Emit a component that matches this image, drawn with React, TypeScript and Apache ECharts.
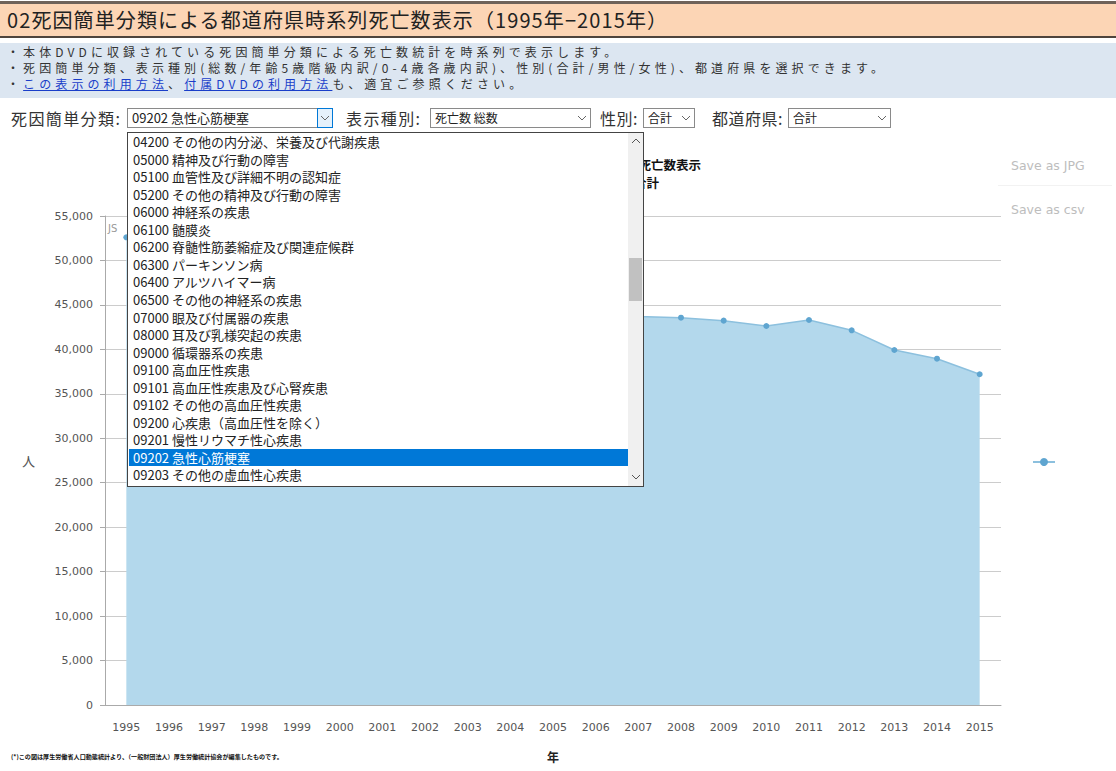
import React, { useEffect, useRef } from "react";
import * as echarts from "echarts";

const years = ["1995","1996","1997","1998","1999","2000","2001","2002","2003","2004","2005","2006","2007","2008","2009","2010","2011","2012","2013","2014","2015"];
const deaths = [52600, 48900, 47600, 48000, 49400, 47200, 45700, 45300, 45700, 44500, 46100, 45200, 43700, 43560, 43230, 42630, 43300, 42140, 39930, 38950, 37200];
const yMax = 55000;
const yInterval = 5000;

const pageTitle = "02死因簡単分類による都道府県時系列死亡数表示（1995年−2015年）";
const descLines = [
  "・本体DVDに収録されている死因簡単分類による死亡数統計を時系列で表示します。",
  "・死因簡単分類、表示種別(総数/年齢5歳階級内訳/0-4歳各歳内訳)、性別(合計/男性/女性)、都道府県を選択できます。",
];
const causeItems = [
  "04200 その他の内分泌、栄養及び代謝疾患",
  "05000 精神及び行動の障害",
  "05100 血管性及び詳細不明の認知症",
  "05200 その他の精神及び行動の障害",
  "06000 神経系の疾患",
  "06100 髄膜炎",
  "06200 脊髄性筋萎縮症及び関連症候群",
  "06300 パーキンソン病",
  "06400 アルツハイマー病",
  "06500 その他の神経系の疾患",
  "07000 眼及び付属器の疾患",
  "08000 耳及び乳様突起の疾患",
  "09000 循環器系の疾患",
  "09100 高血圧性疾患",
  "09101 高血圧性疾患及び心腎疾患",
  "09102 その他の高血圧性疾患",
  "09200 心疾患（高血圧性を除く）",
  "09201 慢性リウマチ性心疾患",
  "09202 急性心筋梗塞",
  "09203 その他の虚血性心疾患",
];
const selectedCause = "09202 急性心筋梗塞";
const seriesName = "合計";

const JP = '"Noto Sans CJK JP", "Noto Sans", sans-serif';

const Chevron = ({ color = "#666" }: { color?: string }) => (
  <svg width="10" height="6" style={{ display: "block" }}>
    <polyline points="1,1 5,5 9,1" fill="none" stroke={color} strokeWidth="1" />
  </svg>
);

function SelectBox(props: { left: number; width: number; text: string; fontSize?: number; focused?: boolean }) {
  const { left, width, text, fontSize = 12, focused } = props;
  return (
    <div style={{ position: "absolute", left, top: 108, width, height: 20, border: "1px solid #8a8a8a", background: "#fff", boxSizing: "border-box" }}>
      <div style={{ position: "absolute", left: 4, top: 0, lineHeight: "18px", fontSize, color: "#222", whiteSpace: "nowrap" }}>{text}</div>
      <div style={{ position: "absolute", right: focused ? -1 : 0, top: focused ? -1 : 0, width: 16, height: focused ? 20 : 18, boxSizing: "border-box", border: focused ? "1px solid #0078d7" : "none", background: focused ? "#e5f1fb" : "transparent", display: "flex", alignItems: "center", justifyContent: "center" }}>
        <Chevron />
      </div>
    </div>
  );
}

const labelStyle: React.CSSProperties = { position: "absolute", top: 107, lineHeight: "22px", fontSize: 16, color: "#333", whiteSpace: "nowrap", letterSpacing: 1.4 };

export default function App() {
  const ref = useRef<HTMLDivElement>(null);

  useEffect(() => {
    const chart = echarts.init(ref.current!, null, { renderer: "svg" });
    chart.setOption({
      animation: false,
      grid: { left: 105, top: 216, width: 896, height: 489, containLabel: false },
      legend: {
        data: [seriesName],
        left: 1027,
        top: 452,
        itemWidth: 22,
        itemHeight: 10,
        formatter: () => "",
      },
      xAxis: {
        type: "category",
        data: years,
        boundaryGap: true,
        axisLine: { lineStyle: { color: "#aaaaaa" } },
        axisTick: { alignWithLabel: true, length: 5, lineStyle: { color: "#aaaaaa" } },
        axisLabel: { color: "#555555", fontSize: 11, fontFamily: "DejaVu Sans", margin: 17, interval: 0 },
        name: "年",
        nameLocation: "middle",
        nameGap: 45,
        nameTextStyle: { color: "#222", fontSize: 12, fontWeight: "bold", fontFamily: JP },
      },
      yAxis: {
        type: "value",
        min: 0,
        max: yMax,
        interval: yInterval,
        axisLine: { show: true, lineStyle: { color: "#aaaaaa" } },
        axisTick: { show: true, length: 5, lineStyle: { color: "#aaaaaa" } },
        axisLabel: {
          color: "#555555",
          fontSize: 11,
          fontFamily: "DejaVu Sans",
          margin: 12,
          formatter: (v: number) => v.toLocaleString("en-US"),
        },
        splitLine: { lineStyle: { color: "#cccccc" } },
        name: "人",
        nameLocation: "middle",
        nameRotate: 0,
        nameGap: 70,
        nameTextStyle: { color: "#555", fontSize: 13, fontFamily: JP },
      },
      series: [
        {
          name: seriesName,
          type: "line",
          data: deaths,
          symbol: "circle",
          symbolSize: 6,
          showSymbol: true,
          itemStyle: { color: "#5fa5d0" },
          lineStyle: { color: "#8cc0de", width: 1.5 },
          areaStyle: { color: "#b3d8ec", opacity: 1 },
        },
      ],
      graphic: [
        { type: "text", x: 701, y: 164, style: { text: "急性心筋梗塞 死亡数表示", align: "right", verticalAlign: "middle", font: 'bold 12.5px "Noto Sans CJK JP"', fill: "#111" } },
        { type: "text", x: 659, y: 182, style: { text: "総数 合計", align: "right", verticalAlign: "middle", font: 'bold 12.5px "Noto Sans CJK JP"', fill: "#111" } },
        { type: "text", x: 108, y: 228, style: { text: "JS", align: "left", verticalAlign: "middle", font: '10px "DejaVu Sans"', fill: "#999" } },
      ],
    });
    return () => chart.dispose();
  }, []);

  const rowH = 17.55;
  const selIdx = causeItems.indexOf(selectedCause);

  return (
    <div style={{ position: "fixed", left: 0, top: 0, width: 1116, height: 771, background: "#fff", overflow: "hidden", fontFamily: JP }}>
      <div ref={ref} style={{ position: "absolute", left: 0, top: 0, width: 1116, height: 771 }} />

      {/* title bar */}
      <div style={{ position: "absolute", left: 0, top: 1, width: 1116, height: 3, background: "#6e6259" }} />
      <div style={{ position: "absolute", left: 0, top: 4, width: 1116, height: 32, background: "#fcd5b5" }} />
      <div style={{ position: "absolute", left: 0, top: 36, width: 1116, height: 2, background: "#4e443d" }} />
      <div style={{ position: "absolute", left: 7, top: 5, lineHeight: "30px", fontSize: 20, color: "#222", letterSpacing: 1.1, whiteSpace: "nowrap" }}>{pageTitle}</div>

      {/* description */}
      <div style={{ position: "absolute", left: 0, top: 43, width: 1116, height: 55, background: "#dce6f1" }} />
      <div style={{ position: "absolute", left: 7, top: 44, fontSize: 12, lineHeight: "16px", color: "#333", letterSpacing: 4.1, whiteSpace: "nowrap" }}>
        <div>{descLines[0]}</div>
        <div>{descLines[1]}</div>
        <div>
          ・<span style={{ color: "#1a3ec9", textDecoration: "underline" }}>この表示の利用方法</span>、
          <span style={{ color: "#1a3ec9", textDecoration: "underline" }}>付属DVDの利用方法</span>も、適宜ご参照ください。
        </div>
      </div>

      {/* controls */}
      <div style={{ ...labelStyle, left: 11 }}>死因簡単分類:</div>
      <SelectBox left={127} width={206} text={selectedCause} fontSize={13} focused />
      <div style={{ ...labelStyle, left: 346 }}>表示種別:</div>
      <SelectBox left={430} width={161} text="死亡数 総数" />
      <div style={{ ...labelStyle, left: 600, letterSpacing: 0.5 }}>性別:</div>
      <SelectBox left={643} width={52} text="合計" />
      <div style={{ ...labelStyle, left: 712, letterSpacing: 0.5 }}>都道府県:</div>
      <SelectBox left={788} width={103} text="合計" />

      {/* dropdown list */}
      <div style={{ position: "absolute", left: 127, top: 132, width: 517, height: 355, background: "#fff", border: "1px solid #444", boxSizing: "border-box", overflow: "hidden" }}>
        {causeItems.map((it, i) => (
          <div key={it} style={{ position: "absolute", left: 1, top: i * rowH, width: 499, height: rowH, background: i === selIdx ? "#0078d7" : "transparent", color: i === selIdx ? "#fff" : "#222", fontSize: 13, lineHeight: rowH + "px", paddingLeft: 4, boxSizing: "border-box", whiteSpace: "nowrap" }}>{it}</div>
        ))}
        <div style={{ position: "absolute", right: 0, top: 0, width: 15, height: 353, background: "#f0f0f0" }}>
          <div style={{ position: "absolute", left: 3, top: 5, transform: "rotate(180deg)" }}><Chevron color="#555" /></div>
          <div style={{ position: "absolute", left: 1, top: 125, width: 13, height: 43, background: "#c1c1c1" }} />
          <div style={{ position: "absolute", left: 3, top: 341 }}><Chevron color="#555" /></div>
        </div>
      </div>

      {/* save buttons */}
      <div style={{ position: "absolute", left: 1011, top: 157, fontSize: 12.5, lineHeight: "18px", color: "#bdbdbd", fontFamily: "DejaVu Sans", whiteSpace: "nowrap" }}>Save as JPG</div>
      <div style={{ position: "absolute", left: 998, top: 185, width: 114, height: 1, background: "#f2f2f2" }} />
      <div style={{ position: "absolute", left: 1011, top: 201, fontSize: 12.5, lineHeight: "18px", color: "#bdbdbd", fontFamily: "DejaVu Sans", whiteSpace: "nowrap" }}>Save as csv</div>

      {/* footnote */}
      <div style={{ position: "absolute", left: 11, top: 752, fontSize: 6.1, lineHeight: "10px", color: "#111", fontWeight: "bold", whiteSpace: "nowrap" }}>
        (*)この図は厚生労働省人口動態統計より、（一般財団法人）厚生労働統計協会が編集したものです。
      </div>
    </div>
  );
}
